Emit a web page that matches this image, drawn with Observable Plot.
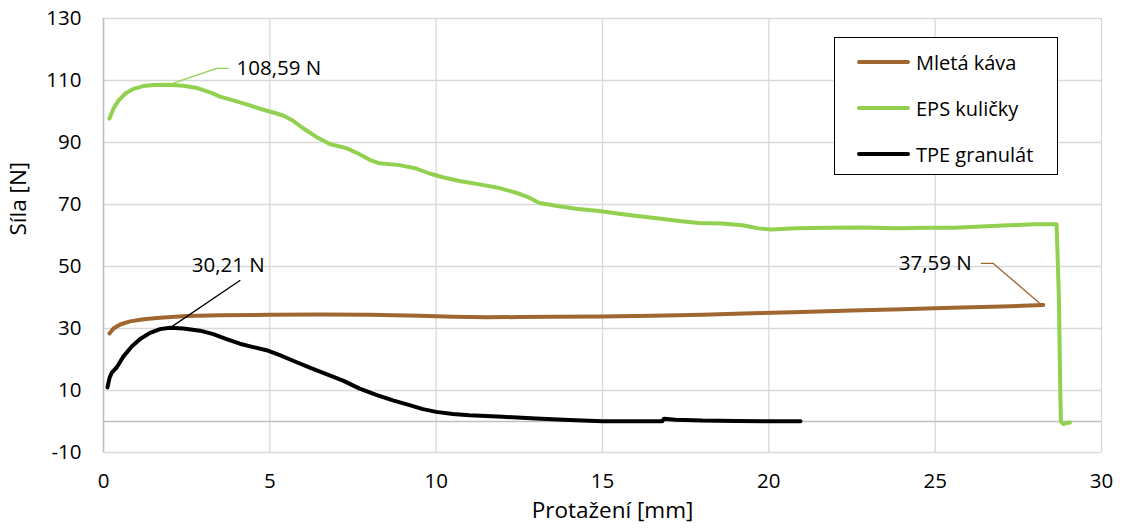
<!DOCTYPE html>
<html><head><meta charset="utf-8">
<script src="https://cdn.jsdelivr.net/npm/d3@7"></script>
<script src="https://cdn.jsdelivr.net/npm/@observablehq/plot@0.6"></script>
<style>
html,body{margin:0;padding:0;background:#fff;}
#wrap{position:relative;width:1122px;height:532px;font-family:"Open Sans",sans-serif;}
#legend{position:absolute;left:834px;top:37px;width:222px;height:136px;border:1.5px solid #000;background:#fff;}
.item{position:absolute;left:22px;height:20px;display:flex;align-items:center;font-size:20px;color:#000;white-space:nowrap;}
.item span.sw{display:inline-block;width:53px;height:4px;border-radius:2px;margin-right:6px;}
</style></head>
<body><div id="wrap"></div>
<script>
// Series names and colours
const seriesNames = ["Mletá káva", "EPS kuličky", "TPE granulát"];
const seriesColors = ["#A0662F", "#92D050", "#000000"];

// Mletá káva
const kavaX = [0.18,0.3,0.5,0.8,1.2,1.7,2.5,3.5,5,6.5,8,9.5,10.5,11.5,12.5,13.5,15,16.5,18,19.5,21,22.5,24,25.5,27,28.25];
const kavaY = [28.4,30,31.3,32.3,33,33.5,34,34.3,34.4,34.5,34.4,34.1,33.8,33.6,33.7,33.8,33.9,34.1,34.4,34.9,35.3,35.8,36.2,36.7,37.1,37.59];

// EPS kuličky
const epsX = [0.18,0.3,0.45,0.66,0.9,1.2,1.5,1.95,2.4,2.8,3.2,3.5,3.9,4.3,4.7,5.0,5.4,5.7,6.0,6.4,6.8,7.3,7.7,8.0,8.3,8.9,9.4,9.8,10.2,10.7,11.3,11.9,12.4,12.8,13.1,13.6,14.2,14.9,15.5,16.1,16.7,17.3,17.9,18.6,19.2,19.7,20.1,20.8,21.8,22.8,23.8,24.8,25.6,26.4,27.2,28.0,28.65,28.72,28.76,28.78,28.85,28.95,29.05];
const epsY = [97.7,101,103.5,105.8,107.3,108.2,108.55,108.59,108.3,107.6,106.2,104.8,103.6,102.3,100.9,100.0,98.7,97.0,94.6,91.8,89.5,88.2,86.2,84.4,83.3,82.7,81.6,80.0,78.8,77.6,76.5,75.3,73.8,72.2,70.5,69.6,68.6,67.9,67.0,66.2,65.5,64.7,64.0,63.9,63.3,62.3,61.9,62.3,62.5,62.6,62.3,62.5,62.5,62.9,63.3,63.6,63.6,40,10,0,-0.8,-0.5,-0.3];

// TPE granulát
const tpeX = [0.12,0.18,0.25,0.4,0.6,0.85,1.1,1.4,1.7,2.0,2.4,2.9,3.3,3.7,4.1,4.5,4.9,5.3,5.7,6.2,6.7,7.2,7.7,8.2,8.7,9.2,9.6,10.0,10.5,11.0,12.0,13.0,14.0,15.0,16.0,16.8,16.85,17.2,18.0,19.0,20.0,20.95];
const tpeY = [11,14,15.8,17.5,21,24.2,26.6,28.6,29.8,30.21,30.0,29.3,28.2,26.6,25.1,24.0,23.0,21.4,19.6,17.4,15.3,13.2,10.6,8.6,6.8,5.3,4.0,3.1,2.4,2.0,1.5,1.0,0.5,0.1,0.05,0.1,0.9,0.6,0.3,0.2,0.1,0.1];

// Axis ticks
const xTicks = [0,5,10,15,20,25,30];
const yTicks = [-10,10,30,50,70,90,110,130];

// Annotations: label text, leader polyline (data units), label anchor
const annoText = ["108,59 N", "30,21 N", "37,59 N"];
const annoLeaderX = [[1.95,3.4,3.75],[2.0,4.1],[28.2,26.75,26.39]];
const annoLeaderY = [[108.59,113.9,113.9],[30.21,45.5],[37.59,51.0,51.0]];
const annoLabelX = [4.0, 3.75, 26.1];
const annoLabelY = [113.9, 50.3, 51.0];
const annoAnchor = ["start", "middle", "end"];
const annoColor = ["#92D050", "#000000", "#A0662F"];

const lineData = [];
[[kavaX,kavaY],[epsX,epsY],[tpeX,tpeY]].forEach(([xs,ys],i)=>{
  xs.forEach((x,j)=>lineData.push({s:seriesNames[i], x, y:ys[j]}));
});
const leaderData = [];
annoLeaderX.forEach((xs,i)=>xs.forEach((x,j)=>leaderData.push({a:i, x, y:annoLeaderY[i][j], c:annoColor[i]})));
const labelData = annoText.map((t,i)=>({t, x:annoLabelX[i], y:annoLabelY[i], anchor:annoAnchor[i]}));
const fmt = d => String(d);

const chart = Plot.plot({
  width: 1122, height: 532,
  marginLeft: 103, marginRight: 21, marginTop: 18, marginBottom: 80,
  x: {domain:[0,30], ticks: xTicks},
  y: {domain:[-10,130], ticks: yTicks},
  color: {domain: seriesNames, range: seriesColors},
  style: {fontFamily: "'Open Sans', sans-serif", fontSize: "20px", color: "#000", background: "#fff"},
  marks: [
    Plot.gridY(yTicks, {stroke:"#d9d9d9", strokeOpacity:1, strokeWidth:1.3}),
    Plot.gridX(xTicks, {stroke:"#d9d9d9", strokeOpacity:1, strokeWidth:1.3}),
    Plot.ruleY([0], {stroke:"#bfbfbf", strokeWidth:1.5}),
    Plot.ruleX([0], {stroke:"#bfbfbf", strokeWidth:1.5}),
    Plot.axisX(xTicks, {tickSize:0, tickPadding:21, fontSize:20.5, label:null, tickFormat:fmt}),
    Plot.axisY(yTicks, {tickSize:0, tickPadding:22, fontSize:20.5, label:null, tickFormat:fmt}),
    Plot.text(["Protažení [mm]"], {frameAnchor:"bottom", dy:65, dx:10, fontSize:22.5}),
    Plot.text(["Síla [N]"], {frameAnchor:"left", dx:-85, rotate:-90, fontSize:22.5}),
    Plot.line(lineData, {x:"x", y:"y", z:"s", stroke:"s", strokeWidth:4, strokeLinejoin:"round", strokeLinecap:"round"}),
    Plot.line(leaderData, {x:"x", y:"y", z:"a", stroke:"c", strokeWidth:1.3}),
    Plot.text(labelData.filter(d=>d.anchor==="start"), {x:"x", y:"y", text:"t", textAnchor:"start", fontSize:20.5}),
    Plot.text(labelData.filter(d=>d.anchor==="middle"), {x:"x", y:"y", text:"t", textAnchor:"middle", fontSize:20.5}),
    Plot.text(labelData.filter(d=>d.anchor==="end"), {x:"x", y:"y", text:"t", textAnchor:"end", fontSize:20.5})
  ]
});
const wrap = document.getElementById("wrap");
wrap.appendChild(chart);

const legend = document.createElement("div");
legend.id = "legend";
seriesNames.forEach((n,i)=>{
  const it = document.createElement("div");
  it.className = "item";
  it.style.top = (14 + i*46) + "px";
  it.innerHTML = `<span class="sw" style="background:${seriesColors[i]}"></span>${n}`;
  legend.appendChild(it);
});
wrap.appendChild(legend);
</script></body></html>
